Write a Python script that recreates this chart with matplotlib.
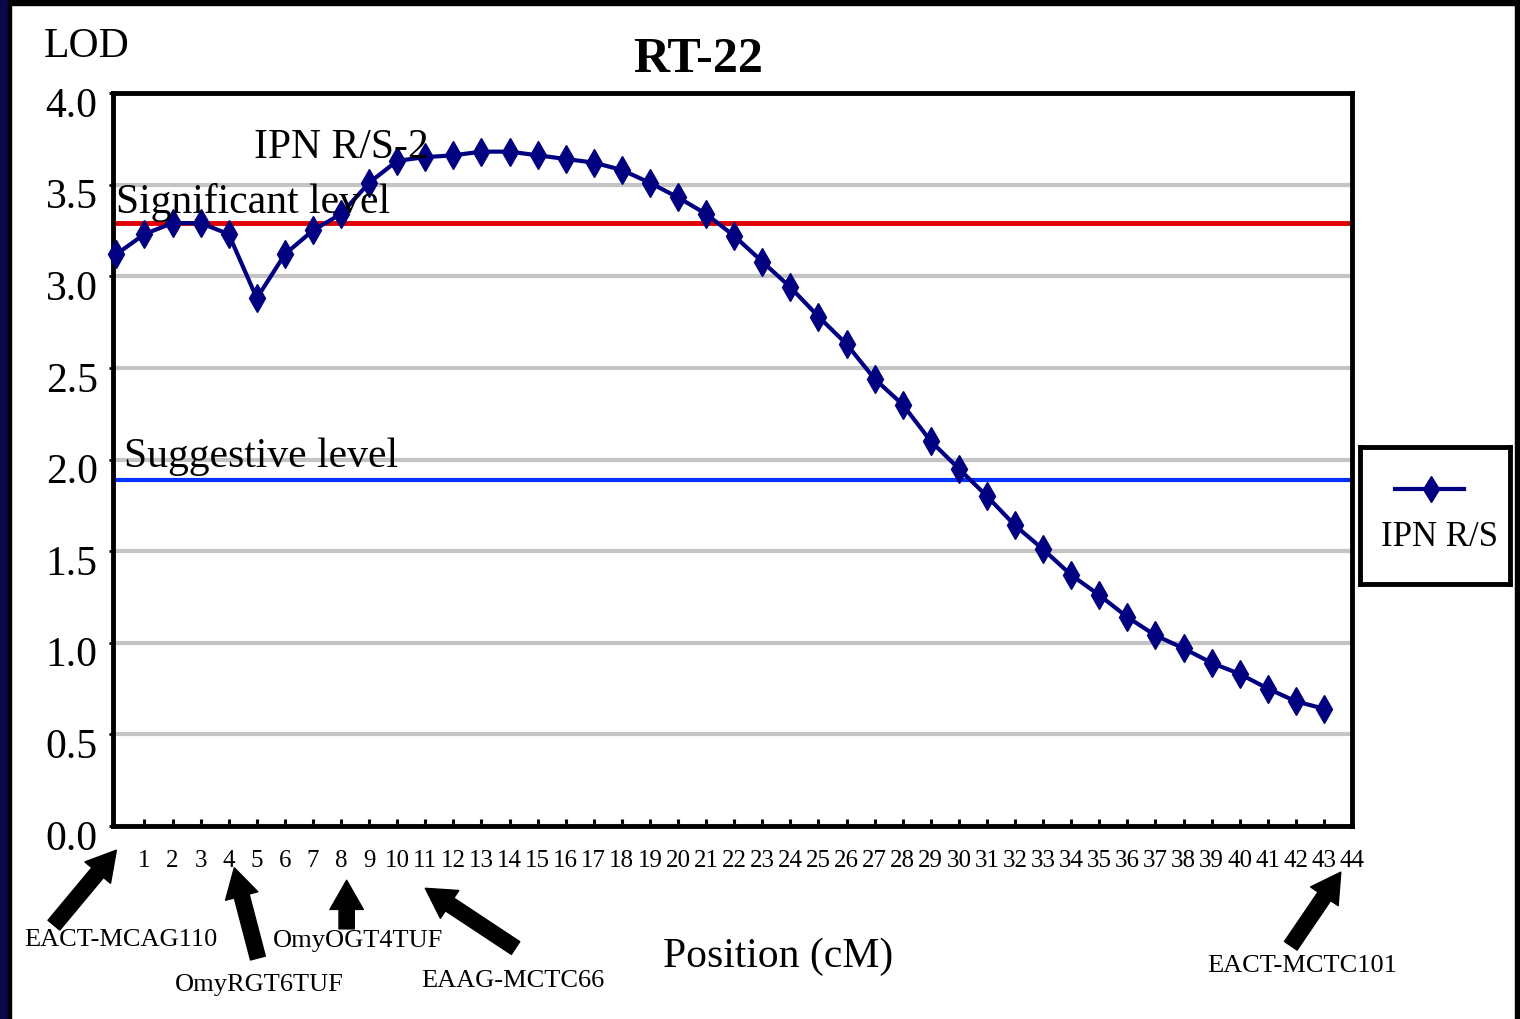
import matplotlib.pyplot as plt
import matplotlib.transforms as mtransforms
from matplotlib.patches import Rectangle

plt.rcParams['font.family'] = ['Liberation Serif', 'DejaVu Serif']

# LOD profile for IPN R/S on linkage group RT-22
positions = list(range(44))
lod = [3.12, 3.23, 3.29, 3.29, 3.23, 2.88, 3.12, 3.25, 3.34, 3.51,
       3.63, 3.65, 3.66, 3.68, 3.68, 3.66, 3.64, 3.62, 3.58, 3.51,
       3.43, 3.34, 3.22, 3.08, 2.94, 2.78, 2.63, 2.44, 2.30, 2.10,
       1.95, 1.80, 1.64, 1.51, 1.37, 1.26, 1.14, 1.04, 0.97, 0.89,
       0.83, 0.75, 0.68, 0.64]
series_name = 'IPN R/S'
qtl_name = 'IPN R/S-2'

significant = 3.29
suggestive = 1.89

x_ticks = list(range(1, 45))
y_ticks = [0.0, 0.5, 1.0, 1.5, 2.0, 2.5, 3.0, 3.5, 4.0]

# markers on the map: name, position (cM)
markers = ['EACT-MCAG110', 'OmyRGT6TUF', 'OmyOGT4TUF', 'EAAG-MCTC66', 'EACT-MCTC101']
marker_pos = [0.0, 4.2, 8.2, 11.0, 43.6]

W, H = 1520, 1019


def fx(x):
    return x / W


def fy(y):
    return 1 - y / H


fig = plt.figure(figsize=(W / 100, H / 100), dpi=100)
fig.patch.set_facecolor('white')

# slide border
fig.patches.append(Rectangle((0, fy(5)), 1, 5 / H, transform=fig.transFigure,
                             color='black', zorder=0))
fig.patches.append(Rectangle((0, 0), fx(8), 1, transform=fig.transFigure,
                             color='#08084a', zorder=0))
fig.patches.append(Rectangle((fx(8), 0), fx(3), 1, transform=fig.transFigure,
                             color='black', zorder=0))
fig.patches.append(Rectangle((fx(1515), 0), fx(5), 1, transform=fig.transFigure,
                             color='black', zorder=0))

ax = fig.add_axes([fx(113), fy(826), fx(1352 - 113), (826 - 93) / H])
ax.set_xlim(-0.12, 44)
ax.set_ylim(0, 4)

ax.set_axisbelow(True)
ax.grid(axis='y', color='#c4c4c4', lw=3)
ax.axhline(significant, color='#e00000', lw=3.5, zorder=2)
ax.axhline(suggestive, color='#0033ff', lw=3, zorder=2)
ax.plot(positions, lod, color='#000080', lw=3, marker='d', ms=14,
        label=series_name, zorder=3, clip_on=False)

for s in ax.spines.values():
    s.set_linewidth(3.5)
    s.set_color('black')

ax.set_xticks(x_ticks)
ax.set_xticklabels([str(t) for t in x_ticks])
ax.tick_params(axis='x', direction='in', length=5, width=2.2, pad=17,
               labelsize=18)
ax.set_yticks(y_ticks)
ax.set_yticklabels(['%.1f' % t for t in y_ticks])
ax.tick_params(axis='y', direction='out', length=3, width=2, pad=8,
               labelsize=30)
offset = mtransforms.ScaledTranslation(0, -9 / 100, fig.dpi_scale_trans)
for lbl in ax.get_yticklabels():
    lbl.set_transform(lbl.get_transform() + offset)

ax.text(4.9, 3.645, qtl_name, fontsize=30, va='baseline', ha='left')
ax.text(0.0, 3.345, 'Significant level', fontsize=30, va='baseline', ha='left')
ax.text(0.28, 1.96, 'Suggestive level', fontsize=30, va='baseline', ha='left')

fig.text(fx(44), fy(47), 'LOD', fontsize=30, va='center', ha='left')
fig.text(fx(698), fy(60), 'RT-22', fontsize=36, fontweight='bold',
         va='center', ha='center')
fig.text(fx(778), fy(957), 'Position (cM)', fontsize=30, va='center', ha='center')

# marker arrows: head y (axes fraction), tail offset (points)
head_y = [-0.033, -0.057, -0.074, -0.085, -0.063]
tail_off = [(-45, -54), (17, -65), (0, -35), (65, -43), (-36, -53)]
label_xy = [(121, 940), (259, 985), (358, 941), (513, 981), (1302, 966)]
for name, xp, hy, off, lxy in zip(markers, marker_pos, head_y, tail_off, label_xy):
    ax.annotate('', xy=(xp, hy), xycoords=('data', 'axes fraction'),
                xytext=off, textcoords='offset points',
                arrowprops=dict(arrowstyle='simple,head_length=1.05,head_width=1.2,tail_width=0.55',
                                mutation_scale=20, color='black', shrinkA=0, shrinkB=0),
                annotation_clip=False)
    fig.text(fx(lxy[0]), fy(lxy[1]), name, fontsize=19, va='center', ha='center')

# legend box
lax = fig.add_axes([fx(1360), fy(584), fx(150), 137 / H])
lax.set_xlim(0, 1)
lax.set_ylim(0, 1)
lax.set_xticks([])
lax.set_yticks([])
for s in lax.spines.values():
    s.set_linewidth(3.5)
lax.plot([0.23, 0.47, 0.69], [0.69, 0.69, 0.69], color='#000080', lw=3,
         marker='d', ms=13, markevery=[1])
lax.text(0.53, 0.34, series_name, fontsize=25, ha='center', va='center')

fig.savefig('out.png', dpi=100)
